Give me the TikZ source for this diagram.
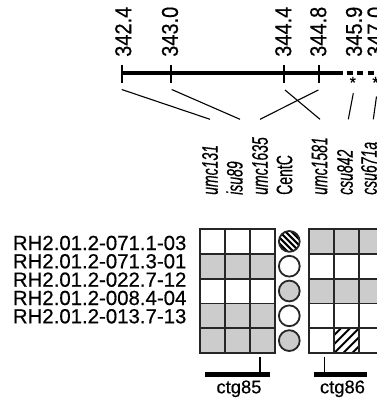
\documentclass[tikz,border=0pt]{standalone}
\usepackage{fontspec}
\setmainfont{Liberation Sans}[FakeBold=0.5]
\usepackage{graphicx}
\definecolor{cellgray}{gray}{0.8}
\tikzset{
  rowlab/.style={anchor=base west, inner sep=0, font=\fontsize{20.4}{22}\selectfont},
  axlab/.style={anchor=west, rotate=90, inner sep=0, font=\fontsize{20}{22}\selectfont},
  mklab/.style={anchor=west, rotate=90, inner sep=0, font=\fontsize{14}{15}\selectfont},
  ctglab/.style={anchor=base, inner sep=0, font=\fontsize{18.4}{20}\selectfont},
  starlab/.style={inner sep=0, font=\fontsize{16}{17}\selectfont},
  conn/.style={line width=1.1pt},
  cell/.style={draw=black!85, line width=1.8pt},
  axisline/.style={line width=4.5pt},
  axistick/.style={line width=2pt},
  ctgbar/.style={line width=5pt},
  hatch/.style={line width=2pt},
}
\begin{document}
\begin{tikzpicture}[x=1pt,y=-1pt]
\useasboundingbox (0,0) rectangle (376,402);
% axis
\coordinate (a0) at (121.7,73);
\coordinate (a1) at (343.3,73);
\coordinate (d0) at (346.7,73);
\coordinate (d1) at (376,73);
\draw[axisline] (a0) -- (a1);
\draw[axisline, dash pattern=on 6pt off 4.5pt] (d0) -- (d1);
\foreach \n/\x in {1/121.7,2/170.7,3/284.3,4/319}{
  \coordinate (tk\n u) at (\x,65);
  \coordinate (tk\n d) at (\x,83);
  \draw[axistick] (tk\n u) -- (tk\n d);
}
% axis labels
\node[axlab] (l1) at (123.3,57) {\scalebox{1}[1.15]{342.4}};
\node[axlab] (l2) at (170,57) {\scalebox{1}[1.15]{343.0}};
\node[axlab] (l3) at (283.3,57) {\scalebox{1}[1.15]{344.4}};
\node[axlab] (l4) at (318.3,57) {\scalebox{1}[1.15]{344.8}};
\node[axlab] (l5) at (354,57) {\scalebox{1}[1.15]{345.9}};
\node[axlab] (l6) at (375.5,57) {\scalebox{1}[1.15]{347.0}};
% stars
\node[starlab] (s1) at (352.8,82.5) {*};
\node[starlab] (s2) at (375.5,82.5) {*};
% connectors
\coordinate (c1t) at (121.7,89.5); \coordinate (c1b) at (210,119.3);
\coordinate (c2t) at (171.7,89.5); \coordinate (c2b) at (240,119.3);
\coordinate (c3t) at (285,90);     \coordinate (c3b) at (320,119.3);
\coordinate (c4t) at (318.3,90);   \coordinate (c4b) at (260,119.3);
\coordinate (c5t) at (353.3,93.3); \coordinate (c5b) at (348.3,119.3);
\coordinate (c6t) at (376.5,96.5); \coordinate (c6b) at (373.3,119.3);
\foreach \n in {1,...,6}{\draw[conn] (c\n t) -- (c\n b);}
% marker labels
\node[mklab] (m1) at (210,195) {\scalebox{1}[1.6]{\itshape umc131}};
\node[mklab] (m2) at (234.5,195) {\scalebox{1}[1.6]{\itshape isu89}};
\node[mklab] (m3) at (260,195) {\scalebox{1}[1.6]{\itshape umc1635}};
\node[mklab] (m4) at (284.5,195) {\scalebox{1}[1.6]{CentC}};
\node[mklab] (m5) at (319.5,195) {\scalebox{1}[1.6]{\itshape umc1581}};
\node[mklab] (m6) at (345,195) {\scalebox{1}[1.6]{\itshape csu842}};
\node[mklab] (m7) at (369,195) {\scalebox{1}[1.6]{\itshape csu671a}};
% row labels
\node[rowlab] (r1) at (12.7,250) {RH2.01.2-071.1-03};
\node[rowlab] (r2) at (12.7,268.3) {RH2.01.2-071.3-01};
\node[rowlab] (r3) at (12.7,286.7) {RH2.01.2-022.7-12};
\node[rowlab] (r4) at (12.7,305) {RH2.01.2-008.4-04};
\node[rowlab] (r5) at (12.7,323.3) {RH2.01.2-013.7-13};
% left grid
\foreach \r/\ca/\cb/\cc in {0/white/white/white,1/cellgray/cellgray/cellgray,2/white/white/white,3/cellgray/cellgray/cellgray,4/cellgray/cellgray/cellgray}{
  \filldraw[cell, fill=\ca] (200,{229+24.8*\r}) rectangle ++(25,24.8);
  \filldraw[cell, fill=\cb] (225,{229+24.8*\r}) rectangle ++(25,24.8);
  \filldraw[cell, fill=\cc] (250,{229+24.8*\r}) rectangle ++(25,24.8);
}
% right grid
\foreach \r/\ca/\cb/\cc in {0/cellgray/cellgray/cellgray,1/white/white/white,2/cellgray/cellgray/cellgray,3/white/white/white,4/white/white/white}{
  \filldraw[cell, fill=\ca] (309.3,{229+24.8*\r}) rectangle ++(25,24.8);
  \filldraw[cell, fill=\cb] (334.3,{229+24.8*\r}) rectangle ++(25,24.8);
  \filldraw[cell, fill=\cc] (359.3,{229+24.8*\r}) rectangle ++(25,24.8);
}
% hatched cell
\begin{scope}
  \clip (334.3,328.2) rectangle (359.3,353);
  \foreach \k in {-27,-18,-9,0,9,18,27}{
    \draw[hatch] ({334.3+\k},353) -- ++(24.8,-24.8);
  }
\end{scope}
\draw[cell] (334.3,328.2) rectangle (359.3,353);
% circles
\foreach \r/\cf in {1/white,2/cellgray,3/white,4/cellgray}{
  \filldraw[cell, fill=\cf] (289.3,{241.4+24.8*\r}) circle (10.4);
}
\begin{scope}
  \clip (289.3,241.4) circle (10.4);
  \fill[white] (289.3,241.4) circle (10.4);
  \foreach \k in {-24,-18,-12,-6,0,6,12,18}{
    \draw[hatch] ({278.9+\k},231) -- ++(22,22);
  }
\end{scope}
\draw[cell] (289.3,241.4) circle (10.4);
% contig bars
\coordinate (b85a) at (205,374); \coordinate (b85b) at (270,374);
\coordinate (b86a) at (314,374); \coordinate (b86b) at (366.7,374);
\draw[ctgbar] (b85a) -- (b85b);
\draw[ctgbar] (b86a) -- (b86b);
\coordinate (t85a) at (260,356.7); \coordinate (t85b) at (260,371.7);
\coordinate (t86a) at (324.3,356.7); \coordinate (t86b) at (324.3,371.7);
\draw[conn] (t85a) -- (t85b);
\draw[conn] (t86a) -- (t86b);
\node[ctglab] (g85) at (239,393.3) {ctg85};
\node[ctglab] (g86) at (342.5,393.3) {ctg86};
\end{tikzpicture}
\end{document}
